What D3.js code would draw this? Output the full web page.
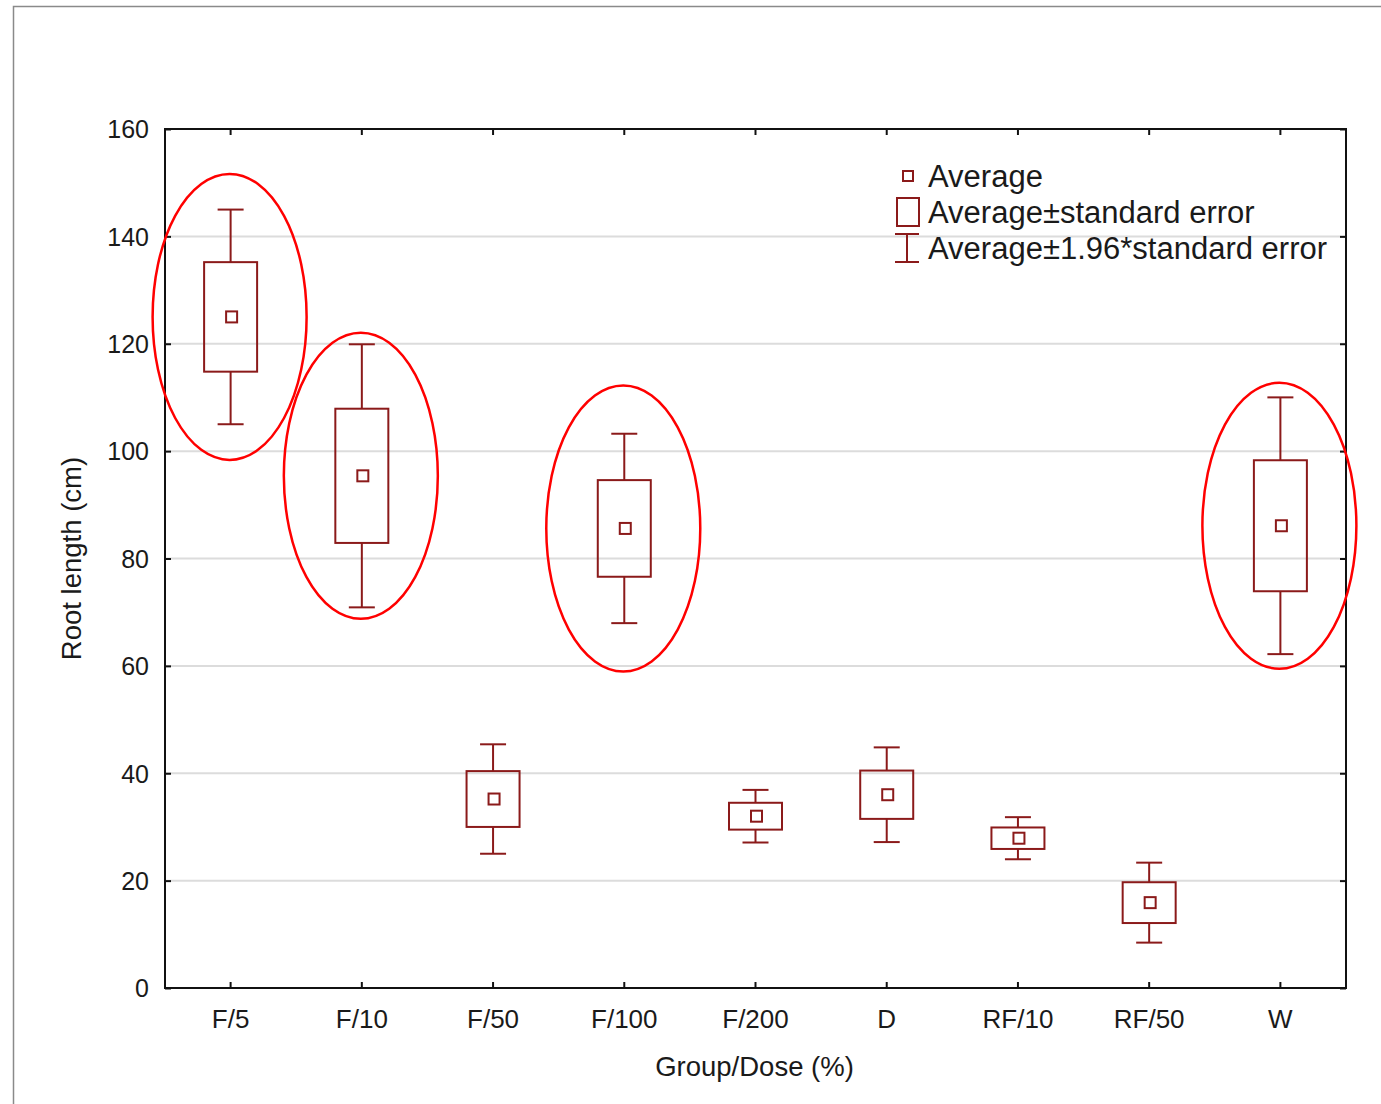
<!DOCTYPE html>
<html>
<head>
<meta charset="utf-8">
<script src="https://cdn.jsdelivr.net/npm/d3@7"></script>
<style>
  body { margin: 0; background: #fff; }
  svg { display: block; font-family: "Liberation Sans", Arial, sans-serif; }
</style>
</head>
<body>
<svg id="chart"></svg>
<script>
const W = 1381, H = 1104,
  m = { top: 129, right: 35, bottom: 116, left: 165 },
  groups = ["F/5", "F/10", "F/50", "F/100", "F/200", "D", "RF/10", "RF/50", "W"],
  means = [125.0, 95.4, 35.2, 85.6, 32.0, 36.0, 27.9, 15.9, 86.1],
  stdErr = [10.2, 12.5, 5.2, 9.0, 2.5, 4.5, 2.0, 3.8, 12.2],
  highlighted = ["F/5", "F/10", "F/100", "W"],
  yTicks = [0, 20, 40, 60, 80, 100, 120, 140, 160],
  legendLabels = ["Average", "Average\u00b1standard error", "Average\u00b11.96*standard error"],
  markColor = "#8b1a1a",
  textColor = "#1a1a1a";

const svg = d3.select("#chart").attr("width", W).attr("height", H);

// page frame
svg.append("rect")
  .attr("x", 13.5).attr("y", 6.5)
  .attr("width", 1400).attr("height", 1200)
  .attr("fill", "none").attr("stroke", "#8a8a8a").attr("stroke-width", 1.5);

const x = d3.scaleBand()
  .domain(groups)
  .range([m.left, W - m.right]);

const y = d3.scaleLinear()
  .domain([0, 160])
  .range([H - m.bottom, m.top]);

const cx = g => x(g) + x.bandwidth() / 2;

// grid
svg.append("g")
  .selectAll("line")
  .data(yTicks.slice(1, -1))
  .join("line")
  .attr("x1", m.left).attr("x2", W - m.right)
  .attr("y1", d => y(d)).attr("y2", d => y(d))
  .attr("stroke", "#dcdcdc").attr("stroke-width", 2);

// axes (ticks pointing inward)
const styleAxis = g => {
  g.select(".domain").remove();
  g.selectAll("line").attr("stroke", "#111").attr("stroke-width", 2);
  g.selectAll("text").attr("fill", textColor).style("font-size", "25px");
};

svg.append("g")
  .attr("transform", `translate(${m.left},0)`)
  .call(d3.axisLeft(y).tickValues(yTicks).tickSizeInner(-6).tickPadding(16))
  .call(styleAxis)
  .selectAll("text").attr("dy", "0.35em");

svg.append("g")
  .attr("transform", `translate(${W - m.right},0)`)
  .call(d3.axisRight(y).tickValues(yTicks).tickSizeInner(-6).tickFormat(""))
  .call(styleAxis);

svg.append("g")
  .attr("transform", `translate(0,${H - m.bottom})`)
  .call(d3.axisBottom(x).tickSizeInner(-6).tickPadding(22))
  .call(styleAxis)
  .selectAll("text").style("font-size", "26px");

svg.append("g")
  .attr("transform", `translate(0,${m.top})`)
  .call(d3.axisTop(x).tickSizeInner(-6).tickFormat(""))
  .call(styleAxis);

// plot frame
svg.append("rect")
  .attr("x", m.left).attr("y", m.top)
  .attr("width", W - m.left - m.right).attr("height", H - m.top - m.bottom)
  .attr("fill", "none").attr("stroke", "#111").attr("stroke-width", 2);

// axis titles
svg.append("text")
  .attr("x", (m.left + W - m.right) / 2 - 1).attr("y", 1076)
  .attr("text-anchor", "middle").attr("fill", textColor)
  .style("font-size", "27.5px")
  .text("Group/Dose (%)");

svg.append("text")
  .attr("transform", `translate(81,${y(80)}) rotate(-90)`)
  .attr("text-anchor", "middle").attr("fill", textColor)
  .style("font-size", "27.5px")
  .text("Root length (cm)");

// boxes: mean ± se, whiskers: mean ± 1.96 se
const data = groups.map((g, i) => ({ g, mean: means[i], se: stdErr[i] }));
const boxW = 53, capW = 26, dotS = 11;

const item = svg.append("g")
  .selectAll("g")
  .data(data)
  .join("g")
  .attr("fill", "none")
  .attr("stroke", markColor)
  .attr("stroke-width", 2);

item.append("line")
  .attr("x1", d => cx(d.g)).attr("x2", d => cx(d.g))
  .attr("y1", d => y(d.mean + 1.96 * d.se)).attr("y2", d => y(d.mean + d.se));
item.append("line")
  .attr("x1", d => cx(d.g)).attr("x2", d => cx(d.g))
  .attr("y1", d => y(d.mean - d.se)).attr("y2", d => y(d.mean - 1.96 * d.se));
item.append("line")
  .attr("x1", d => cx(d.g) - capW / 2).attr("x2", d => cx(d.g) + capW / 2)
  .attr("y1", d => y(d.mean + 1.96 * d.se)).attr("y2", d => y(d.mean + 1.96 * d.se));
item.append("line")
  .attr("x1", d => cx(d.g) - capW / 2).attr("x2", d => cx(d.g) + capW / 2)
  .attr("y1", d => y(d.mean - 1.96 * d.se)).attr("y2", d => y(d.mean - 1.96 * d.se));
item.append("rect")
  .attr("x", d => cx(d.g) - boxW / 2)
  .attr("y", d => y(d.mean + d.se))
  .attr("width", boxW)
  .attr("height", d => y(d.mean - d.se) - y(d.mean + d.se));
item.append("rect")
  .attr("x", d => cx(d.g) - dotS / 2 + 1)
  .attr("y", d => y(d.mean) - dotS / 2)
  .attr("width", dotS).attr("height", dotS);

// red highlight ellipses
svg.append("g")
  .selectAll("ellipse")
  .data(data.filter(d => highlighted.includes(d.g)))
  .join("ellipse")
  .attr("cx", d => cx(d.g) - 1)
  .attr("cy", d => y(d.mean))
  .attr("rx", 77).attr("ry", 143)
  .attr("fill", "none").attr("stroke", "#f00").attr("stroke-width", 2.5);

// legend
const lg = svg.append("g").attr("transform", "translate(908,176)");
const rowH = 36;
lg.selectAll("text")
  .data(legendLabels)
  .join("text")
  .attr("x", 20).attr("y", (d, i) => i * rowH)
  .attr("dy", "0.36em")
  .attr("fill", textColor)
  .style("font-size", "31px")
  .text(d => d);

const sym = lg.append("g").attr("fill", "none").attr("stroke", markColor).attr("stroke-width", 2);
sym.append("rect").attr("x", -5).attr("y", -5).attr("width", 10).attr("height", 10);
sym.append("rect").attr("x", -11).attr("y", rowH - 14).attr("width", 22).attr("height", 28);
sym.append("line").attr("x1", -1).attr("x2", -1).attr("y1", 2 * rowH - 14).attr("y2", 2 * rowH + 14);
sym.append("line").attr("x1", -13).attr("x2", 11).attr("y1", 2 * rowH - 14).attr("y2", 2 * rowH - 14);
sym.append("line").attr("x1", -13).attr("x2", 11).attr("y1", 2 * rowH + 14).attr("y2", 2 * rowH + 14);
</script>
</body>
</html>
